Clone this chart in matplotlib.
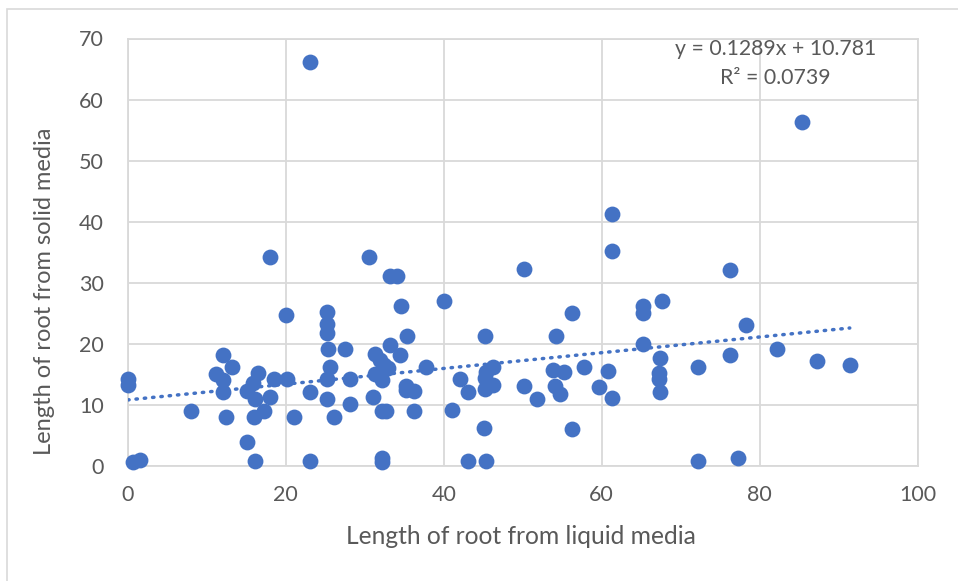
import matplotlib
matplotlib.use("Agg")
import matplotlib.pyplot as plt
from matplotlib.patches import Rectangle
import numpy as np

# Data
liquid = [0, 0, 0.7, 1.5, 8.0, 11.2, 12.1, 12.1, 12.1, 12.4, 13.2, 15.1, 15.1, 15.9, 16.1,
          16.0, 16.1, 16.5, 17.2, 18.0, 18.0, 18.5, 20.1, 20.2, 21.1, 23.1, 23.1, 23.1,
          25.2, 25.2, 25.2, 25.4, 25.6, 25.2, 25.2, 26.1, 27.5, 28.1, 28.1, 30.6, 31.3,
          31.9, 32.4, 33.0, 31.3, 32.2, 31.1, 32.2, 32.7, 32.2, 32.2, 33.2, 33.2, 34.1,
          34.5, 34.6, 35.4, 35.2, 35.2, 36.2, 36.2, 37.8, 40.1, 41.0, 42.1, 43.1, 43.1,
          45.2, 46.3, 45.4, 45.2, 46.3, 45.2, 45.1, 45.4, 50.2, 50.2, 51.8, 53.8, 55.2,
          54.1, 54.7, 54.2, 56.2, 56.2, 57.8, 59.7, 60.8, 61.3, 61.3, 61.3, 65.2, 65.2,
          65.2, 67.6, 67.4, 67.2, 67.2, 67.4, 72.2, 72.2, 76.2, 76.2, 77.3, 78.3, 82.2,
          85.4, 87.3, 91.4]
solid = [14.2, 13.2, 0.6, 0.9, 9.0, 15.1, 18.1, 14.0, 12.1, 8.0, 16.2, 3.9, 12.3, 13.5, 11.0,
         8.0, 0.8, 15.2, 9.0, 11.2, 34.2, 14.2, 24.7, 14.2, 8.0, 66.2, 12.1, 0.8,
         25.2, 23.3, 21.7, 19.1, 16.2, 14.2, 11.0, 8.0, 19.1, 14.2, 10.1, 34.2, 18.3,
         17.3, 16.5, 16.0, 15.1, 14.0, 11.3, 9.0, 9.0, 1.2, 0.6, 19.8, 31.1, 31.1,
         18.1, 26.1, 21.3, 13.1, 12.4, 12.3, 9.0, 16.2, 27.0, 9.1, 14.2, 12.1, 0.8,
         21.3, 16.2, 15.4, 14.3, 13.2, 12.5, 6.1, 0.7, 32.2, 13.1, 11.0, 15.6, 15.3,
         13.1, 11.8, 21.3, 25.1, 6.0, 16.1, 12.9, 15.5, 11.1, 41.3, 35.1, 26.1, 25.0,
         19.9, 27.0, 17.6, 15.2, 14.2, 12.1, 16.1, 0.8, 32.1, 18.1, 1.2, 23.1, 19.1,
         56.3, 17.1, 16.5]
slope, intercept = 0.1289, 10.781
eq_text = "y = 0.1289x + 10.781"
r2_text = "R² = 0.0739"
x_ticks = [0, 20, 40, 60, 80, 100]
y_ticks = [0, 10, 20, 30, 40, 50, 60, 70]
x_label = "Length of root from liquid media"
y_label = "Length of root from solid media"

plt.rcParams['font.family'] = ['Lato', 'DejaVu Sans']
blue = "#4472C4"
grid = "#D9D9D9"
txt = "#595959"

W, H = 958, 581
fig = plt.figure(figsize=(W / 100, H / 100), dpi=100)
fig.patches.append(Rectangle((7 / W, -0.1), 1.2, 1 - 9 / H + 0.1, transform=fig.transFigure,
                             fill=False, edgecolor=grid, linewidth=1.2))

ax = fig.add_axes([127.7 / W, 115.3 / H, 790 / W, (465.7 - 38.5) / H])
ax.set_xlim(0, 100)
ax.set_ylim(0, 70)
ax.set_xticks(x_ticks)
ax.set_yticks(y_ticks)
ax.grid(True, color=grid, linewidth=1.3)
ax.set_axisbelow(True)
for s in ax.spines.values():
    s.set_color(grid)
    s.set_linewidth(1.3)
ax.tick_params(length=0, labelsize=15.5, colors=txt)
ax.tick_params(axis='x', pad=14)
ax.tick_params(axis='y', pad=17)

ax.scatter(liquid, solid, s=130, color=blue, zorder=3, linewidths=0, clip_on=False)

xs = np.array([min(liquid), max(liquid)])
ax.plot(xs, slope * xs + intercept, color=blue, linewidth=2.5, linestyle=(0, (0.4, 2.0)),
        dash_capstyle='round', zorder=4)

ax.text(0.82, 0.975, eq_text, transform=ax.transAxes, ha='center', va='center',
        fontsize=15.3, color=txt)
ax.text(0.82, 0.908, r2_text, transform=ax.transAxes, ha='center', va='center',
        fontsize=15.3, color=txt)

ax.set_xlabel(x_label, fontsize=17.7, color=txt)
ax.set_ylabel(y_label, fontsize=17, color=txt)
ax.xaxis.set_label_coords(0.498, -(537 - 465.7) / 427.2, transform=ax.transAxes)
ax.yaxis.set_label_coords(-(127.7 - 45) / 790, (465.7 - 291) / 427.2, transform=ax.transAxes)
ax.xaxis.label.set_va('center')
ax.yaxis.label.set_va('center')

fig.savefig("out.png", dpi=100, facecolor="white")
